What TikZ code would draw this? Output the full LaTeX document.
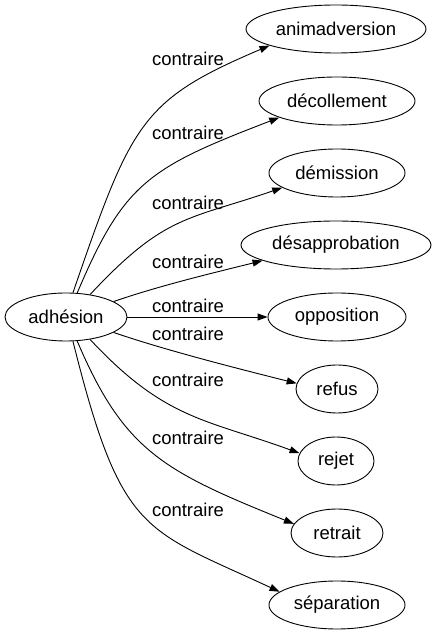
\documentclass[tikz,border=0pt]{standalone}
\usepackage{fontspec}
\setmainfont{Liberation Sans}
\usetikzlibrary{shapes.geometric,arrows.meta}

\begin{document}
\begin{tikzpicture}[x=1pt,y=1pt,font=\fontsize{18.5pt}{22pt}\selectfont]

      \useasboundingbox (0,0) rectangle (436,635);

      \begin{scope}[every node/.style={ellipse,draw,line width=.9pt,inner sep=0pt,minimum height=48pt}]
        \node[minimum width=122pt] (adhesion)       at (66,318)  {adhésion};
        \node[minimum width=180pt] (animadversion)  at (336,606) {animadversion};
        \node[minimum width=156pt] (decollement)    at (337,534) {décollement};
        \node[minimum width=136pt] (demission)      at (337,462) {démission};
        \node[minimum width=190pt] (desapprobation) at (336,390) {désapprobation};
        \node[minimum width=138pt] (opposition)     at (337,318) {opposition};
        \node[minimum width=82pt]  (refus)          at (337,246) {refus};
        \node[minimum width=76pt]  (rejet)          at (336,174) {rejet};
        \node[minimum width=92pt]  (retrait)        at (337,102) {retrait};
        \node[minimum width=136pt] (separation)     at (337,30)  {séparation};
      \end{scope}

      \begin{scope}[every node/.style={inner sep=0pt}]
        \node (c1) at (188,576) {contraire};
        \node (c2) at (188,502) {contraire};
        \node (c3) at (188,432) {contraire};
        \node (c4) at (188,373) {contraire};
        \node (c5) at (188,329) {contraire};
        \node (c6) at (188,301) {contraire};
        \node (c7) at (188,255) {contraire};
        \node (c8) at (188,197) {contraire};
        \node (c9) at (188,125) {contraire};
      \end{scope}

      \begin{scope}[every path/.style={line width=.9pt,-{Triangle[length=10pt,width=7pt]}}]
        \draw (adhesion.74)   .. controls +(71:180)  and +(203:140) .. (animadversion.194);
        \draw (adhesion.65)   .. controls +(67:120)  and +(201:140) .. (decollement.196);
        \draw (adhesion.43)   .. controls +(47:110)  and +(199:100) .. (demission.195);
        \draw (adhesion.18)   .. controls +(19:50)   and +(194:50)  .. (desapprobation.192);
        \draw (adhesion.east) -- (opposition.west);
        \draw (adhesion.-18)  .. controls +(-19:55)  and +(166:55)  .. (refus.172);
        \draw (adhesion.-43)  .. controls +(-47:110) and +(160:100) .. (rejet.168);
        \draw (adhesion.-65)  .. controls +(-67:120) and +(158:140) .. (retrait.168);
        \draw (adhesion.-74)  .. controls +(-76:200) and +(155:150) .. (separation.167);
      \end{scope}

    \end{tikzpicture}
\end{document}
